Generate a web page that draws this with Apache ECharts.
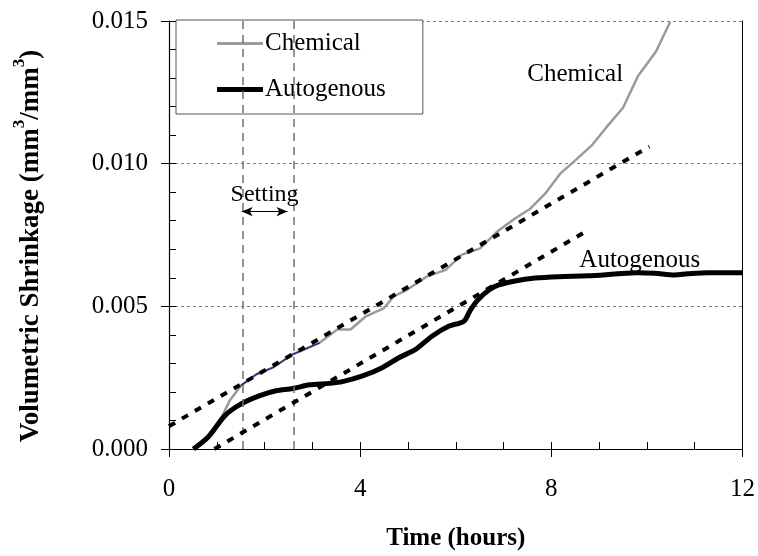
<!DOCTYPE html>
<html>
<head>
<meta charset="utf-8">
<script src="https://cdn.jsdelivr.net/npm/echarts@6/dist/echarts.min.js"></script>
<style>html,body{margin:0;padding:0;background:#fff;}#c{width:758px;height:556px;}</style>
</head>
<body>
<div id="c"></div>
<script>
// ---- data (hours, mm3/mm3) ----
var chemHours = [0.5,0.82,1.1,1.27,1.51,1.83,2.17,2.59,3.15,3.52,3.8,4.12,4.5,4.71,4.98,5.4,5.79,6.13,6.51,6.86,7.24,7.56,7.87,8.18,8.49,8.84,9.15,9.5,9.81,10.19,10.49];
var chemValues = [0,0.00042,0.00111,0.0017,0.00223,0.00262,0.00285,0.00332,0.00372,0.00419,0.00419,0.00465,0.00494,0.00536,0.00558,0.00605,0.00628,0.00681,0.00703,0.00761,0.00808,0.00842,0.00895,0.00964,0.0101,0.01063,0.01127,0.01196,0.01306,0.01393,0.01498];
var autoHours = [0.51,0.82,1.17,1.51,1.9,2.24,2.59,2.94,3.35,3.63,4.05,4.46,4.81,5.16,5.51,5.85,6.17,6.3,6.45,6.7,6.9,7.24,7.66,8.15,8.77,9.33,9.81,10.16,10.58,10.85,11.27,12];
var autoValues = [0,0.00042,0.00117,0.00158,0.00187,0.00204,0.00212,0.00225,0.0023,0.00236,0.00256,0.00285,0.0032,0.00349,0.00396,0.0043,0.00448,0.00485,0.0052,0.00558,0.00575,0.00589,0.00599,0.00604,0.00607,0.00613,0.00618,0.00616,0.0061,0.00614,0.00618,0.00618];
var chemFitHours = [0, 10.05];
var chemFitValues = [0.0008, 0.0106];
var autoFitHours = [0.95, 8.8];
var autoFitValues = [0, 0.0077];
var blueRange = [1.51, 3.15];          // segment of chemical curve drawn in blue
var settingHours = [1.55, 2.6];         // initial / final setting
var arrowHours = [1.52, 2.48];
var arrowValue = 0.00832;
var chemLabel = [8.5, 0.01312];
var autoLabel = [9.85, 0.00661];
var xTicks = [0, 4, 8, 12];
var yTicks = [0, 0.005, 0.010, 0.015];

function pairs(xs, ys){ return xs.map(function(x,i){ return [x, ys[i]]; }); }
var chemData = pairs(chemHours, chemValues);
var blueData = chemData.filter(function(p){ return p[0] >= blueRange[0] && p[0] <= blueRange[1]; });

var FONT = 'Liberation Serif';
// legend icons: horizontal bars of given thickness inside a 14px tall box (tiny corner specks keep the box)
function barIcon(th){
  var y0 = (14 - th) / 2;
  return 'path://M0,0h0.05v0.05h-0.05z M0,' + y0 + 'h46v' + th + 'h-46z M45.95,13.95h0.05v0.05h-0.05z';
}
var chart = echarts.init(document.getElementById('c'), null, {renderer:'canvas'});
var option = {
  animation: false,
  backgroundColor: '#fff',
  textStyle: {fontFamily: FONT, color: '#000'},
  grid: {left: 169, right: 13, top: 21, bottom: 104, containLabel: false},
  legend: {
    data: [
      {name: 'Chemical', icon: barIcon(3.2)},
      {name: 'Autogenous', icon: barIcon(5)}
    ],
    orient: 'vertical', left: 176, top: 20,
    padding: [11, 37, 12, 41],
    itemGap: 21, itemWidth: 46, itemHeight: 14,
    backgroundColor: '#fff', borderColor: '#555', borderWidth: 1,
    selectedMode: false,
    textStyle: {fontFamily: FONT, fontSize: 25, color: '#000', padding: [0,0,0,-3]}
  },
  xAxis: [{
    type: 'value', min: xTicks[0], max: xTicks[xTicks.length-1], interval: 4,
    name: 'Time (hours)', nameLocation: 'middle', nameGap: 77,
    nameTextStyle: {fontFamily: FONT, fontSize: 25, fontWeight: 'bold', color: '#000'},
    axisLine: {show: true, lineStyle: {color: '#000', width: 1.2}},
    axisTick: {show: true, inside: false, length: 8, lineStyle: {color: '#000'}},
    axisLabel: {fontFamily: FONT, fontSize: 25, color: '#000', margin: 28},
    splitLine: {show: false}
  }, {
    type: 'value', min: 0, max: 12, interval: 1, position: 'bottom',
    axisLine: {show: false},
    axisTick: {show: true, inside: true, length: 7, lineStyle: {color: '#000'}},
    axisLabel: {show: false}, splitLine: {show: false}
  }],
  yAxis: [{
    type: 'value', min: yTicks[0], max: yTicks[yTicks.length-1], interval: 0.005,
    name: '{b|Volumetric Shrinkage (mm}{s|3}{b|/mm}{s|3}{b|)}',
    nameLocation: 'middle', nameGap: 124, nameRotate: 90,
    nameTextStyle: {
      padding: [0, 22, 0, 0],
      rich: {
        b: {fontFamily: FONT, fontSize: 27, fontWeight: 'bold', color: '#000', verticalAlign: 'bottom', lineHeight: 34},
        s: {fontFamily: FONT, fontSize: 17, fontWeight: 'bold', color: '#000', verticalAlign: 'top', lineHeight: 34}
      }
    },
    axisLine: {show: true, lineStyle: {color: '#000', width: 1.2}},
    axisTick: {show: true, inside: false, length: 8, lineStyle: {color: '#000'}},
    axisLabel: {fontFamily: FONT, fontSize: 25, color: '#000', margin: 21,
      formatter: function(v){ return v.toFixed(3); }},
    splitLine: {show: true, lineStyle: {color: '#808080', width: 1, type: [3, 3]}}
  }, {
    type: 'value', min: 0, max: 0.015, interval: 0.001, position: 'left',
    axisLine: {show: false},
    axisTick: {show: true, inside: true, length: 7, lineStyle: {color: '#000'}},
    axisLabel: {show: false}, splitLine: {show: false}
  }, {
    type: 'value', min: 0, max: 0.015, interval: 0.005, position: 'right',
    axisLine: {show: true, lineStyle: {color: '#000', width: 1}},
    axisTick: {show: false}, axisLabel: {show: false}, splitLine: {show: false}
  }],
  series: [
    {
      name: 'Setting', type: 'line', data: [], z: 1,
      markLine: {
        silent: true, symbol: ['none','none'],
        lineStyle: {color: '#707070', width: 1.5, type: [8, 6]},
        label: {show: false},
        data: settingHours.map(function(h){ return [{coord: [h, yTicks[0]]}, {coord: [h, yTicks[3]]}]; })
      }
    },
    {
      name: 'SettingArrow', type: 'line', data: [], z: 6,
      markLine: {
        silent: true, symbol: ['arrow','arrow'], symbolSize: [7, 11],
        lineStyle: {color: '#000', width: 1.2, type: 'solid'},
        label: {show: true, formatter: 'Setting', position: 'insideMiddleTop', distance: 5,
          fontFamily: FONT, fontSize: 24, color: '#000'},
        data: [[{coord: [arrowHours[0], arrowValue]}, {coord: [arrowHours[1], arrowValue]}]]
      }
    },
    {
      name: 'Chemical', type: 'line', data: chemData, showSymbol: false, symbol: 'none', z: 3,
      lineStyle: {color: '#9a9a9a', width: 2.5}, itemStyle: {color: '#9a9a9a'},
      markPoint: {
        symbol: 'circle', symbolSize: 0, silent: true,
        label: {show: true, position: 'inside', formatter: 'Chemical', fontFamily: FONT, fontSize: 25, color: '#000'},
        data: [{coord: chemLabel}]
      }
    },
    {
      name: 'ChemicalBlue', type: 'line', data: blueData, showSymbol: false, symbol: 'none', z: 4,
      lineStyle: {color: '#1c2580', width: 1.4}
    },
    {
      name: 'Autogenous', type: 'line', data: pairs(autoHours, autoValues), showSymbol: false, symbol: 'none', z: 3,
      smooth: 0.3,
      lineStyle: {color: '#000', width: 5}, itemStyle: {color: '#000'},
      markPoint: {
        symbol: 'circle', symbolSize: 0, silent: true,
        label: {show: true, position: 'inside', formatter: 'Autogenous', fontFamily: FONT, fontSize: 25, color: '#000'},
        data: [{coord: autoLabel}]
      }
    },
    {
      name: 'ChemFit', type: 'line', data: pairs(chemFitHours, chemFitValues), showSymbol: false, symbol: 'none', z: 5,
      lineStyle: {color: '#000', width: 4, type: [7, 8]}
    },
    {
      name: 'AutoFit', type: 'line', data: pairs(autoFitHours, autoFitValues), showSymbol: false, symbol: 'none', z: 5,
      lineStyle: {color: '#000', width: 4, type: [7, 8]}
    }
  ]
};
chart.setOption(option);
</script>
</body>
</html>
